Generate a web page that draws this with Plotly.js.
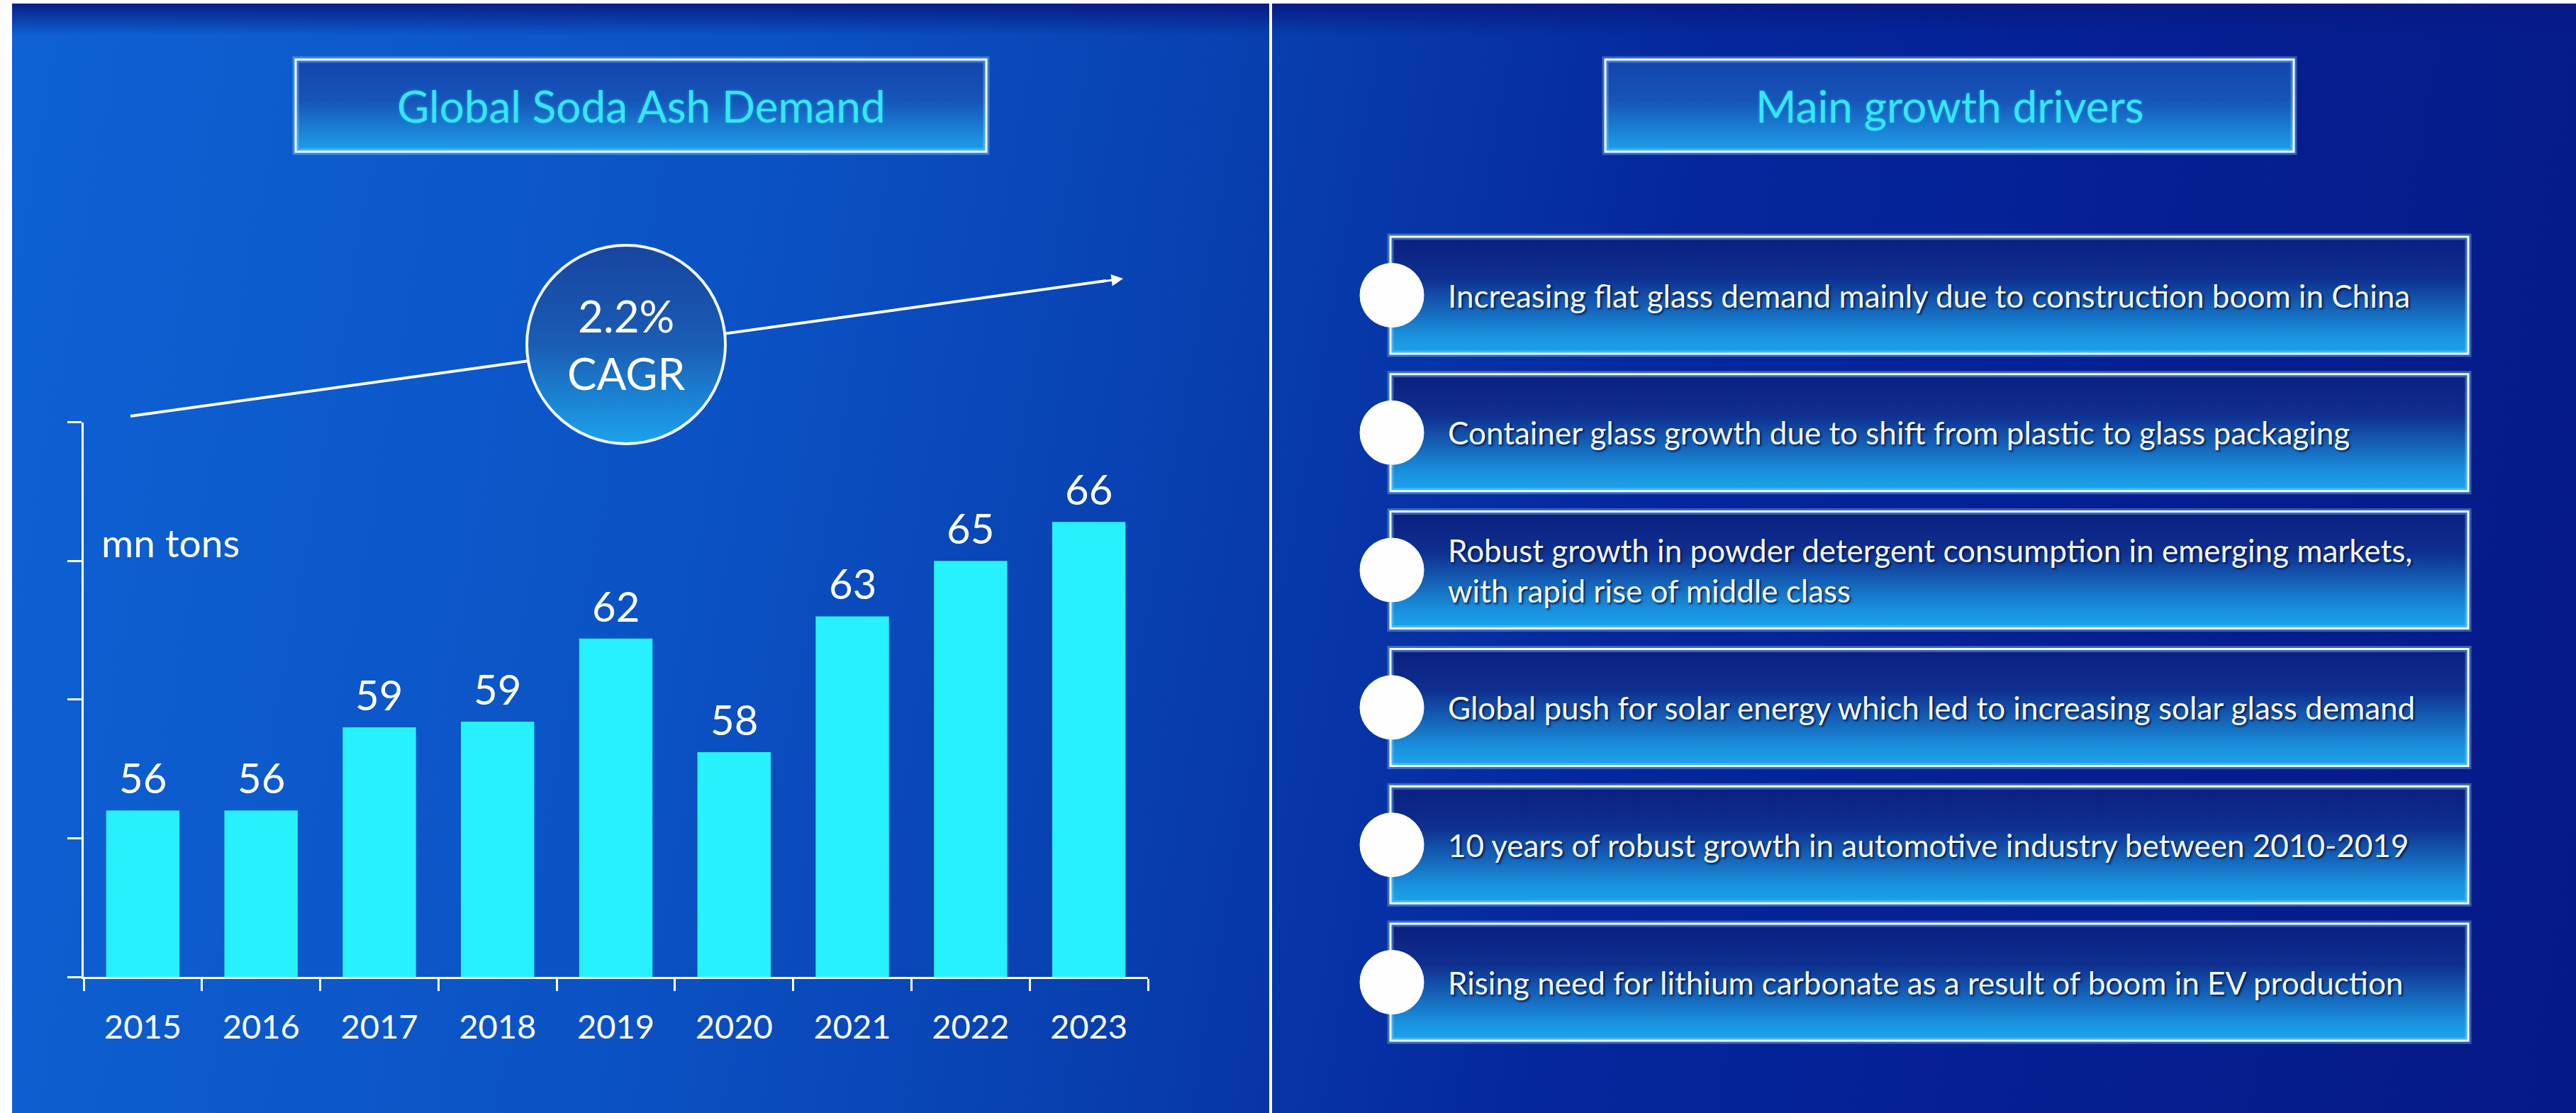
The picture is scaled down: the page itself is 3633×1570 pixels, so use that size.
<!DOCTYPE html>
<html>
<head>
<meta charset="utf-8">
<script src="https://cdn.plot.ly/plotly-3.0.1.min.js"></script>
<style>
  html, body { margin: 0; padding: 0; background: #ffffff; }
  #bg {
    position: absolute; left: 17px; top: 5px; width: 3616px; height: 1565px;
    background:
      linear-gradient(to bottom, rgba(8, 26, 130, 0.95) 0px, rgba(8, 26, 130, 0) 45px),
      linear-gradient(100deg, #0e62d4 0%, #0b52c4 28%, #0840b0 45%, #05279d 62%, #051f92 80%, #061a86 100%);
  }
  #chart { position: absolute; left: 0; top: 0; width: 3633px; height: 1570px; }
</style>
</head>
<body>
<div id="bg"></div>
<div id="chart"></div>
<script>
  const years = ["2015", "2016", "2017", "2018", "2019", "2020", "2021", "2022", "2023"];
  const demand = [56.0, 56.0, 59.0, 59.2, 62.2, 58.1, 63.0, 65.0, 66.4];
  const demandLabels = ["56", "56", "59", "59", "62", "58", "63", "65", "66"];
  const unitLabel = "mn tons";
  const cagrText = "2.2%<br>CAGR";
  const leftTitle = "Global Soda Ash Demand";
  const rightTitle = "Main growth drivers";
  const drivers = [
    "Increasing flat glass demand mainly due to construction boom in China",
    "Container glass growth due to shift from plastic to glass packaging",
    "Robust growth in powder detergent consumption in emerging markets,<br>with rapid rise of middle class",
    "Global push for solar energy which led to increasing solar glass demand",
    "10 years of robust growth in automotive industry between 2010-2019",
    "Rising need for lithium carbonate as a result of boom in EV production",
  ];

  const W = 3633;
  const H = 1570;
  const FONT = "Lato, 'Open Sans', sans-serif";
  const px = (x) => x / W;
  const py = (y) => 1 - y / H;

  // gradient panels are drawn as small svg images stretched into place
  function gradImage(x0, y0, x1, y1, stops, round) {
    const stopTags = stops.map(([o, c]) => `<stop offset='${o}' stop-color='${c}'/>`).join("");
    const body = round
      ? "<circle cx='50' cy='50' r='50' fill='url(#g)'/>"
      : "<rect width='100' height='100' fill='url(#g)'/>";
    const svg = `<svg xmlns='http://www.w3.org/2000/svg' width='100' height='100' viewBox='0 0 100 100' preserveAspectRatio='none'><defs><linearGradient id='g' x1='0' y1='0' x2='0' y2='1'>${stopTags}</linearGradient></defs>${body}</svg>`;
    return {
      source: "data:image/svg+xml;charset=utf-8," + encodeURIComponent(svg),
      xref: "paper", yref: "paper",
      x: px(x0), y: py(y0),
      sizex: (x1 - x0) / W, sizey: (y1 - y0) / H,
      xanchor: "left", yanchor: "top",
      sizing: "stretch",
      layer: round ? "above" : "below",
    };
  }

  function rectShape(x0, y0, x1, y1, line, layer) {
    return {
      type: "rect", xref: "paper", yref: "paper",
      x0: px(x0), x1: px(x1), y0: py(y1), y1: py(y0),
      line, fillcolor: "rgba(0,0,0,0)", layer: layer || "below",
    };
  }

  function circleShape(cx, cy, r, fill, line, layer) {
    return {
      type: "circle", xref: "paper", yref: "paper",
      x0: px(cx - r), x1: px(cx + r), y0: py(cy + r), y1: py(cy - r),
      fillcolor: fill, line, layer: layer || "below",
    };
  }

  const titleStops = [[0, "#1444ad"], [0.45, "#1655b8"], [1, "#1ea2ea"]];
  const boxStops = [[0, "#0a1f80"], [0.35, "#0f2f8f"], [0.85, "#1a93de"], [1, "#1ca3ec"]];
  const cagrStops = [[0, "#1745a0"], [0.5, "#1a5cb4"], [1, "#1ca2ec"]];

  const images = [];
  const shapes = [];
  const annotations = [];

  // divider
  shapes.push({
    type: "line", xref: "paper", yref: "paper",
    x0: px(1792), x1: px(1792), y0: 0, y1: py(5),
    line: { color: "#ffffff", width: 4 }, layer: "below",
  });

  // title boxes
  [[417, 1391, leftTitle], [2264, 3235, rightTitle]].forEach(([x0, x1, text]) => {
    images.push(gradImage(x0, 84, x1, 214, titleStops, false));
    shapes.push(rectShape(x0, 84, x1, 214, { color: "rgba(150,220,255,0.35)", width: 9 }));
    shapes.push(rectShape(x0, 84, x1, 214, { color: "#f4fbff", width: 3 }));
    annotations.push({
      xref: "paper", yref: "paper", x: px((x0 + x1) / 2), y: py(149),
      xanchor: "center", yanchor: "middle", showarrow: false, text,
      font: { family: FONT, size: 62, color: "#36e6f7", shadow: "0px 0px 4px rgba(40,220,255,0.45)" },
    });
  });

  // driver boxes
  drivers.forEach((text, i) => {
    const top = 334 + 193.8 * i;
    const bottom = top + 165;
    const mid = (top + bottom) / 2;
    images.push(gradImage(1961, top, 3481, bottom, boxStops, false));
    shapes.push(rectShape(1961, top, 3481, bottom, { color: "rgba(150,220,255,0.35)", width: 9 }));
    shapes.push(rectShape(1961, top, 3481, bottom, { color: "#eef8ff", width: 3 }));
    shapes.push(circleShape(1963, mid, 45, "#fefeff", { color: "#ffffff", width: 1 }));
    annotations.push({
      xref: "paper", yref: "paper", x: px(2040), y: py(mid),
      xanchor: "left", yanchor: "middle", align: "left", showarrow: false, text,
      font: { family: FONT, size: 44, color: "#f4f8ff", shadow: "2px 2px 3px rgba(0,10,60,0.85)" },
    });
  });

  // growth arrow behind the CAGR badge
  shapes.push({
    type: "line", xref: "paper", yref: "paper",
    x0: px(184), y0: py(587), x1: px(1560), y1: py(396),
    line: { color: "#ffffff", width: 4 }, layer: "below",
  });
  annotations.push({
    xref: "paper", yref: "paper", axref: "paper", ayref: "paper",
    x: px(1584), y: py(393), ax: px(1550), ay: py(397.7),
    text: "", showarrow: true, arrowhead: 2, arrowsize: 1.1, arrowwidth: 3, arrowcolor: "#ffffff",
  });

  // CAGR badge
  images.push(gradImage(743, 346, 1023, 626, cagrStops, true));
  shapes.push(circleShape(883, 486, 140, "rgba(0,0,0,0)", { color: "#f2f8ff", width: 4 }, "above"));
  annotations.push({
    xref: "paper", yref: "paper", x: px(883), y: py(486),
    xanchor: "center", yanchor: "middle", showarrow: false, text: cagrText,
    font: { family: FONT, size: 62, color: "#ffffff" },
  });

  // unit label
  annotations.push({
    xref: "paper", yref: "paper", x: px(141), y: py(765),
    xanchor: "left", yanchor: "middle", showarrow: false, text: unitLabel,
    font: { family: FONT, size: 55, color: "#ffffff" },
  });

  // value labels sit a little higher above the bars than plotly's outside text
  // (x is the category index, a numeric-looking year string would be read as a position)
  demand.forEach((v, i) => {
    annotations.push({
      xref: "x", yref: "y", x: i, y: v,
      xanchor: "center", yanchor: "bottom", yshift: 10, showarrow: false,
      text: demandLabels[i],
      font: { family: FONT, size: 58, color: "#ffffff" },
    });
  });

  const trace = {
    type: "bar",
    x: years,
    y: demand,
    marker: { color: "#27f1fd", line: { width: 0 } },
    hoverinfo: "skip",
  };

  const layout = {
    width: W,
    height: H,
    margin: { l: 0, r: 0, t: 0, b: 0, pad: 0 },
    paper_bgcolor: "rgba(0,0,0,0)",
    plot_bgcolor: "rgba(0,0,0,0)",
    showlegend: false,
    bargap: 0.38,
    font: { family: FONT, color: "#ffffff" },
    xaxis: {
      domain: [px(118), px(1619)],
      type: "category",
      range: [-0.5, years.length - 0.5],
      showline: true,
      linecolor: "#ffffff",
      linewidth: 3,
      ticks: "outside",
      tickson: "boundaries",
      ticklen: 17,
      tickwidth: 3,
      tickcolor: "#ffffff",
      showgrid: false,
      zeroline: false,
      tickfont: { family: FONT, size: 47, color: "#ffffff" },
      ticklabelstandoff: 28,
    },
    yaxis: {
      domain: [py(1378), py(595.5)],
      range: [50, 70],
      dtick: 5,
      showline: true,
      linecolor: "#ffffff",
      linewidth: 3,
      ticks: "outside",
      ticklen: 20,
      tickwidth: 3,
      tickcolor: "#ffffff",
      showticklabels: false,
      showgrid: false,
      zeroline: false,
    },
    images,
    shapes,
    annotations,
  };

  Plotly.newPlot("chart", [trace], layout, { displayModeBar: false, staticPlot: true });
</script>
</body>
</html>
